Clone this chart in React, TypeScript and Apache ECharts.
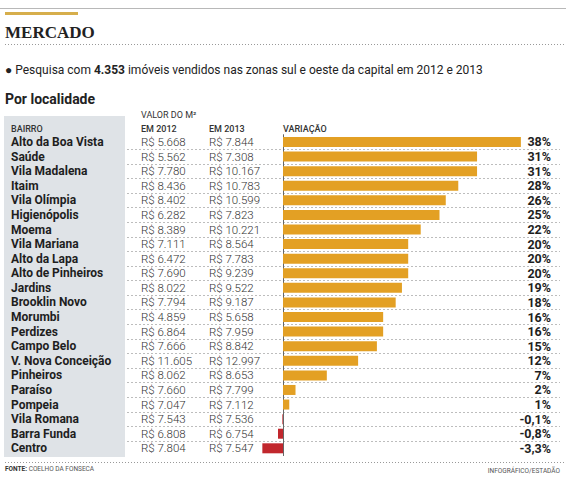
import React, { useEffect, useRef } from "react";
import * as echarts from "echarts";

const neighborhoods = [
  "Alto da Boa Vista", "Saúde", "Vila Madalena", "Itaim", "Vila Olímpia", "Higienópolis",
  "Moema", "Vila Mariana", "Alto da Lapa", "Alto de Pinheiros", "Jardins", "Brooklin Novo",
  "Morumbi", "Perdizes", "Campo Belo", "V. Nova Conceição", "Pinheiros", "Paraíso",
  "Pompeia", "Vila Romana", "Barra Funda", "Centro",
];
const price2012 = [
  5668, 5562, 7780, 8436, 8402, 6282, 8389, 7111, 6472, 7690, 8022, 7794,
  4859, 6864, 7666, 11605, 8062, 7660, 7047, 7543, 6808, 7804,
];
const price2013 = [
  7844, 7308, 10167, 10783, 10599, 7823, 10221, 8564, 7783, 9239, 9522, 9187,
  5658, 7959, 8842, 12997, 8653, 7799, 7112, 7536, 6754, 7547,
];
const variation = [
  38, 31, 31, 28, 26, 25, 22, 20, 20, 20, 19, 18, 16, 16, 15, 12, 7, 2, 1, -0.1, -0.8, -3.3,
];

const fmtPrice = (v: number) =>
  "R$ " + String(v).replace(/\B(?=(\d{3})+(?!\d))/g, ".");
const fmtPct = (v: number) => String(v).replace(".", ",") + "%";

const GOLD = "#e3a024";
const RED = "#c1272d";
const FONT = "Roboto, 'Noto Sans', sans-serif";

export default function App() {
  const ref = useRef<HTMLDivElement>(null);
  useEffect(() => {
    if (!ref.current) return;
    const chart = echarts.init(ref.current, null, { renderer: "svg" });
    const top = 134.7;
    const bottom = 485 - 455.6;
    const unit = 6.26;
    const zeroX = 283;
    const xMin = -4;
    const xMax = 40;
    const gridLeft = zeroX + xMin * unit;
    const gridRight = 569 - (zeroX + xMax * unit);

    const hiddenCat = {
      type: "category" as const,
      data: neighborhoods,
      inverse: true,
      axisLine: { show: false },
      axisTick: { show: false },
      splitLine: { show: false },
    };

    chart.setOption({
      animation: false,
      backgroundColor: "#ffffff",
      textStyle: { fontFamily: FONT },
      grid: [
        { left: 127, right: 9, top, bottom },
        { left: gridLeft, right: gridRight, top, bottom },
      ],
      xAxis: [
        { type: "value", gridIndex: 0, show: false, min: 0, max: 1 },
        { type: "value", gridIndex: 1, show: false, min: xMin, max: xMax },
      ],
      yAxis: [
        {
          ...hiddenCat,
          gridIndex: 0,
          axisLabel: { show: false },
          splitLine: {
            show: true,
            interval: 0,
            showMinLine: false,
            showMaxLine: false,
            lineStyle: { color: "#bdbdbd", type: [2, 2], width: 1 },
          },
        },
        {
          ...hiddenCat,
          gridIndex: 1,
          axisLabel: { show: false },
          axisLine: { show: true, onZero: true, lineStyle: { color: "#666", width: 1 } },
        },
        {
          ...hiddenCat,
          gridIndex: 0,
          position: "left",
          axisLabel: {
            show: true,
            interval: 0,
            align: "left",
            margin: 116,
            fontFamily: FONT,
            fontWeight: "bold",
            fontSize: 12,
            color: "#1e1e1e",
          },
        },
        {
          ...hiddenCat,
          gridIndex: 0,
          position: "left",
          axisLabel: {
            show: true,
            interval: 0,
            align: "left",
            margin: -14,
            fontFamily: FONT,
            fontWeight: 300,
            fontSize: 11.5,
            color: "#333",
            formatter: (_: string, i: number) => fmtPrice(price2012[i]),
          },
        },
        {
          ...hiddenCat,
          gridIndex: 0,
          position: "left",
          axisLabel: {
            show: true,
            interval: 0,
            align: "left",
            margin: -82,
            fontFamily: FONT,
            fontWeight: 300,
            fontSize: 11.5,
            color: "#333",
            formatter: (_: string, i: number) => fmtPrice(price2013[i]),
          },
        },
        {
          ...hiddenCat,
          gridIndex: 0,
          position: "right",
          axisLabel: {
            show: true,
            interval: 0,
            align: "right",
            margin: -9,
            fontFamily: FONT,
            fontWeight: "bold",
            fontSize: 12.5,
            color: "#1e1e1e",
            formatter: (_: string, i: number) => fmtPct(variation[i]),
          },
        },
      ],
      series: [
        {
          type: "bar",
          xAxisIndex: 1,
          yAxisIndex: 1,
          barWidth: 10,
          data: variation.map((v) => ({
            value: v,
            itemStyle: { color: v < 0 ? RED : GOLD },
          })),
        },
      ],
      graphic: [
        { type: "rect", z: -10, shape: { x: 4, y: 116, width: 121, height: 341 }, style: { fill: "#dfe3e7" } },
        { type: "line", shape: { x1: 0, y1: 8.5, x2: 566, y2: 8.5 }, style: { stroke: "#b8b8b8", lineWidth: 1 } },
        { type: "rect", shape: { x: 5, y: 12, width: 73, height: 3 }, style: { fill: "#d6ae4c" } },
        {
          type: "text",
          x: 5,
          y: 32,
          style: {
            text: "MERCADO",
            font: "bold 17px 'Liberation Serif', 'DejaVu Serif', serif",
            fill: "#222",
            textVerticalAlign: "middle",
          },
        },
        { type: "line", shape: { x1: 5, y1: 44.5, x2: 566, y2: 44.5 }, style: { stroke: "#999", lineWidth: 1, lineDash: [1, 2] } },
        {
          type: "text",
          x: 5,
          y: 70,
          style: {
            text: "{n|● Pesquisa com }{b|4.353}{n| imóveis vendidos nas zonas sul e oeste da capital em 2012 e 2013}",
            rich: {
              n: { fontFamily: FONT, fontSize: 12, fill: "#222" },
              b: { fontFamily: FONT, fontSize: 12, fontWeight: "bold", fill: "#222" },
            },
            textVerticalAlign: "middle",
          },
        },
        {
          type: "text",
          x: 5,
          y: 99,
          style: { text: "Por localidade", font: `bold 14px ${FONT}`, fill: "#222", textVerticalAlign: "middle" },
        },
        {
          type: "text",
          x: 141,
          y: 115,
          style: { text: "VALOR DO M²", font: `9px ${FONT}`, fill: "#333", textVerticalAlign: "middle" },
        },
        { type: "text", x: 11, y: 129, style: { text: "BAIRRO", font: `500 9px ${FONT}`, fill: "#333", textVerticalAlign: "middle" } },
        { type: "text", x: 141, y: 129, style: { text: "EM 2012", font: `500 9px ${FONT}`, fill: "#333", textVerticalAlign: "middle" } },
        { type: "text", x: 209, y: 129, style: { text: "EM 2013", font: `500 9px ${FONT}`, fill: "#333", textVerticalAlign: "middle" } },
        { type: "text", x: 283, y: 129, style: { text: "VARIAÇÃO", font: `500 9px ${FONT}`, fill: "#333", textVerticalAlign: "middle" } },
        { type: "line", shape: { x1: 5, y1: 462.5, x2: 566, y2: 462.5 }, style: { stroke: "#999", lineWidth: 1, lineDash: [1, 2] } },
        {
          type: "text",
          x: 5,
          y: 469,
          style: {
            text: "{b|FONTE:}{n| COELHO DA FONSECA}",
            rich: {
              b: { fontFamily: FONT, fontSize: 6.5, fontWeight: "bold", fill: "#333" },
              n: { fontFamily: FONT, fontSize: 6.5, fill: "#555" },
            },
            textVerticalAlign: "middle",
          },
        },
        {
          type: "text",
          x: 560,
          y: 471,
          style: {
            text: "INFOGRÁFICO/ESTADÃO",
            font: `6.5px ${FONT}`,
            fill: "#555",
            textAlign: "right",
            textVerticalAlign: "middle",
          },
        },
      ],
    });
    return () => chart.dispose();
  }, []);
  return (
    <div
      ref={ref}
      style={{ position: "fixed", left: 0, top: 0, width: 569, height: 485 }}
    />
  );
}
